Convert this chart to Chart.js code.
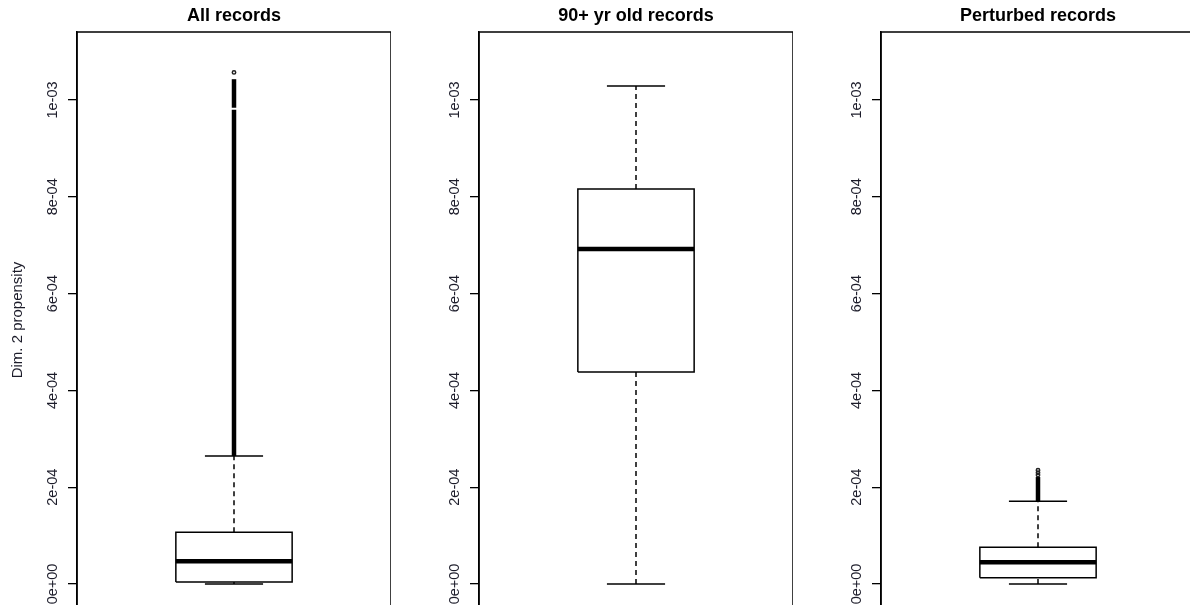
<!DOCTYPE html>
<html>
<head>
<meta charset="utf-8">
<script src="https://cdn.jsdelivr.net/npm/chart.js@4/dist/chart.umd.min.js"></script>
<style>
  html, body { margin: 0; padding: 0; background: #fff; overflow: hidden; width: 1190px; height: 605px; }
  canvas.panel { position: absolute; top: 0; }
</style>
</head>
<body>
<canvas id="panel0" class="panel" width="391" height="608" style="left:0px"></canvas>
<canvas id="panel1" class="panel" width="391" height="608" style="left:402px"></canvas>
<canvas id="panel2" class="panel" width="391" height="608" style="left:804px"></canvas>
<script>
// Boxplot summaries of the dimension-2 propensity, one panel per record group
const panelTitles   = ['All records', '90+ yr old records', 'Perturbed records'];
const lowerWhisker  = [0, 0, 0];
const firstQuartile = [4.1e-6, 4.38e-4, 1.30e-5];
const medians       = [4.69e-5, 6.92e-4, 4.48e-5];
const thirdQuartile = [1.068e-4, 8.16e-4, 7.58e-5];
const upperWhisker  = [2.645e-4, 1.029e-3, 1.709e-4];
// Runs of outliers packed so tightly that they merge into a solid column: [from, to]
const outlierRuns = [
  [[2.645e-4, 9.80e-4], [9.84e-4, 1.043e-3]],
  [],
  [[1.709e-4, 2.21e-4]]
];
// Isolated outliers
const outlierPoints = [
  [1.057e-3],
  [],
  [2.25e-4, 2.30e-4, 2.35e-4]
];
const yTickValues = [0, 2e-4, 4e-4, 6e-4, 8e-4, 1e-3];
const yTickLabels = ['0e+00', '2e-04', '4e-04', '6e-04', '8e-04', '1e-03'];
const yAxisTitle = 'Dim. 2 propensity';
const yLimits = [-4.96e-5, 1.1405e-3];
const xLimits = [0.46, 1.54];

const INK = '#000';
const FONT = '"Liberation Sans", Arial, sans-serif';
const BOX_HALF = 0.2;     // half width of the box in x units
const CAP_HALF = 0.1;     // half width of the whisker staples
const LINE_W = 1.5;

function segment(x0, y0, x1, y1, width, dash) {
  return {
    data: [{ x: x0, y: y0 }, { x: x1, y: y1 }],
    showLine: true,
    borderColor: INK,
    borderWidth: width,
    borderDash: dash || [],
    borderCapStyle: 'butt',
    pointRadius: 0,
    fill: false
  };
}

function boxDatasets(i) {
  const c = 1, lo = lowerWhisker[i], q1 = firstQuartile[i], md = medians[i],
        q3 = thirdQuartile[i], hi = upperWhisker[i];
  const sets = [];
  sets.push(segment(c, q3, c, hi, LINE_W, [5, 4]));
  sets.push(segment(c, lo, c, q1, LINE_W, [5, 4]));
  sets.push(segment(c - CAP_HALF, hi, c + CAP_HALF, hi, LINE_W));
  sets.push(segment(c - CAP_HALF, lo, c + CAP_HALF, lo, LINE_W));
  outlierRuns[i].forEach(r => sets.push(segment(c, r[0], c, r[1], 4.5)));
  sets.push({
    data: [
      { x: c - BOX_HALF, y: q1 }, { x: c + BOX_HALF, y: q1 },
      { x: c + BOX_HALF, y: q3 }, { x: c - BOX_HALF, y: q3 },
      { x: c - BOX_HALF, y: q1 }
    ],
    showLine: true, borderColor: INK, borderWidth: LINE_W,
    backgroundColor: '#fff', fill: true, pointRadius: 0, borderJoinStyle: 'miter'
  });
  sets.push(segment(c - BOX_HALF, md, c + BOX_HALF, md, 4.5));
  sets.push({
    data: outlierPoints[i].map(v => ({ x: c, y: v })),
    showLine: false, pointRadius: 1.7, pointBorderWidth: 1.5,
    pointBorderColor: '#222', pointBackgroundColor: 'rgba(0,0,0,0)'
  });
  return sets;
}

// Draws the rectangle around each plotting region
const frame = {
  id: 'frame',
  afterDraw(chart) {
    const a = chart.chartArea, ctx = chart.ctx;
    ctx.save();
    ctx.strokeStyle = INK;
    ctx.lineWidth = LINE_W;
    ctx.strokeRect(a.left, a.top, a.right - a.left, a.bottom - a.top);
    ctx.restore();
  }
};

panelTitles.forEach((title, i) => {
  new Chart(document.getElementById('panel' + i), {
    type: 'scatter',
    data: { datasets: boxDatasets(i) },
    plugins: [frame],
    options: {
      responsive: false,
      animation: false,
      events: [],
      layout: { padding: 0, autoPadding: false },
      plugins: {
        legend: { display: false },
        tooltip: { enabled: false },
        title: {
          display: true, text: title, fullSize: false, color: '#000',
          font: { family: FONT, size: 18, weight: 'bold' },
          padding: { top: 5, bottom: 5.4 }
        }
      },
      scales: {
        x: { type: 'linear', min: xLimits[0], max: xLimits[1], display: false },
        y: {
          type: 'linear', min: yLimits[0], max: yLimits[1],
          afterBuildTicks: s => { s.ticks = yTickValues.map(v => ({ value: v })); },
          afterFit: s => { s.width = 77; s.paddingTop = 0; s.paddingBottom = 0; },
          ticks: {
            callback: v => yTickLabels[yTickValues.indexOf(v)],
            minRotation: 90, maxRotation: 90, crossAlign: 'center',
            padding: -5, color: '#1c1c2a', autoSkip: false,
            font: { family: FONT, size: 14.5 }
          },
          grid: { drawOnChartArea: false, drawTicks: true, tickLength: 9, color: INK, lineWidth: 1.3 },
          border: { display: true, color: INK, width: LINE_W },
          title: {
            display: i === 0, text: yAxisTitle, color: '#1c1c2a',
            font: { family: FONT, size: 15 }, padding: { top: 9, bottom: 0 }
          }
        }
      }
    }
  });
});
</script>
</body>
</html>
